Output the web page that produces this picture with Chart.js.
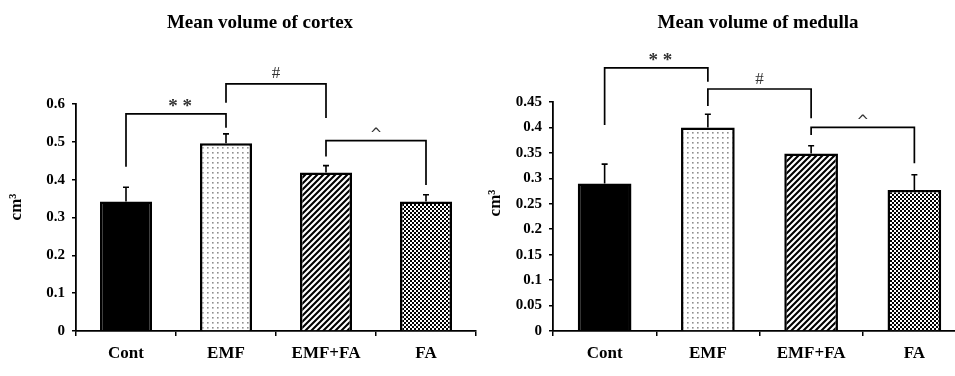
<!DOCTYPE html>
<html>
<head>
<meta charset="utf-8">
<script src="https://cdn.jsdelivr.net/npm/chart.js@4/dist/chart.umd.min.js"></script>
<style>
  html, body { margin: 0; padding: 0; background: #fff; overflow: hidden; }
  #wrap { position: relative; width: 955px; height: 376px; overflow: hidden; background: #fff; }
  #c1 { position: absolute; left: 0; top: 0; }
  #c2 { position: absolute; left: 480px; top: 0; }
</style>
</head>
<body>
<div id="wrap">
  <canvas id="c1" width="480" height="376"></canvas>
  <canvas id="c2" width="495" height="376"></canvas>
</div>
<script>
// ---------- data ----------
const categories = ['Cont', 'EMF', 'EMF+FA', 'FA'];

const cortexMeans = [0.342, 0.496, 0.419, 0.342];
const cortexErrors = [0.038, 0.025, 0.018, 0.018];
const cortexTicks = [0, 0.1, 0.2, 0.3, 0.4, 0.5, 0.6];
const cortexTickLabels = ['0', '0.1', '0.2', '0.3', '0.4', '0.5', '0.6'];

const medullaMeans = [0.290, 0.400, 0.349, 0.277];
const medullaErrors = [0.038, 0.026, 0.015, 0.030];
const medullaTicks = [0, 0.05, 0.1, 0.15, 0.2, 0.25, 0.3, 0.35, 0.4, 0.45];
const medullaTickLabels = ['0', '0.05', '0.1', '0.15', '0.2', '0.25', '0.3', '0.35', '0.4', '0.45'];

// significance brackets: from category, to category, leg bottoms and bar height (in data units), mark
const cortexBrackets = [
  { from: 0, to: 1, yFrom: 0.434, yTop: 0.574, yTo: 0.537, mark: '**' },
  { from: 1, to: 2, yFrom: 0.603, yTop: 0.653, yTo: 0.563, mark: '#' },
  { from: 2, to: 3, yFrom: 0.461, yTop: 0.503, yTo: 0.386, mark: '^' }
];
const medullaBrackets = [
  { from: 0, to: 1, yFrom: 0.405, yTop: 0.517, yTo: 0.490, mark: '**' },
  { from: 1, to: 2, yFrom: 0.442, yTop: 0.4755, yTo: 0.418, mark: '#' },
  { from: 2, to: 3, yFrom: 0.385, yTop: 0.400, yTo: 0.3295, mark: '^' }
];

// ---------- patterns ----------
function makeTile(size, draw) {
  const c = document.createElement('canvas');
  c.width = size; c.height = size;
  const g = c.getContext('2d');
  draw(g, size);
  return c;
}
function patterns(ctx) {
  const dots = ctx.createPattern(makeTile(5, (g, s) => {
    g.fillStyle = '#fff'; g.fillRect(0, 0, s, s);
    g.fillStyle = '#8f8f8f'; g.fillRect(2, 2, 1.6, 1.6);
  }), 'repeat');
  const stripes = ctx.createPattern(makeTile(6, (g, s) => {
    g.fillStyle = '#fff'; g.fillRect(0, 0, s, s);
    g.strokeStyle = '#000'; g.lineWidth = 2.1;
    g.beginPath();
    g.moveTo(0, s); g.lineTo(s, 0);
    g.moveTo(-1, 1); g.lineTo(1, -1);
    g.moveTo(s - 1, s + 1); g.lineTo(s + 1, s - 1);
    g.stroke();
  }), 'repeat');
  const checker = ctx.createPattern(makeTile(4, (g, s) => {
    g.fillStyle = '#000'; g.fillRect(0, 0, s, s);
    g.fillStyle = '#fff'; g.fillRect(0, 0, 2, 2); g.fillRect(2, 2, 2, 2);
  }), 'repeat');
  return ['#000', dots, stripes, checker];
}

// ---------- plugins ----------
const markFonts = {
  '**': 'bold 19px "Liberation Serif"',
  '#': '17px "Liberation Serif"',
  '^': '15px "DejaVu Sans"'
};
const extrasPlugin = {
  id: 'extras',
  afterDatasetsDraw(chart, args, opts) {
    const ctx = chart.ctx;
    const x = chart.scales.x, y = chart.scales.y;
    // error bars (upper only)
    ctx.save();
    ctx.strokeStyle = '#000';
    ctx.lineWidth = 1.6;
    opts.means.forEach((m, i) => {
      const px = x.getPixelForValue(i);
      const y0 = y.getPixelForValue(m);
      const y1 = y.getPixelForValue(m + opts.errors[i]);
      ctx.beginPath();
      ctx.moveTo(px, y0); ctx.lineTo(px, y1);
      ctx.moveTo(px - 3, y1); ctx.lineTo(px + 3, y1);
      ctx.stroke();
    });
    // brackets
    ctx.lineWidth = 1.7;
    opts.brackets.forEach(b => {
      const xa = x.getPixelForValue(b.from), xb = x.getPixelForValue(b.to);
      const ya = y.getPixelForValue(b.yFrom), yt = y.getPixelForValue(b.yTop), yb = y.getPixelForValue(b.yTo);
      ctx.beginPath();
      ctx.moveTo(xa, ya); ctx.lineTo(xa, yt); ctx.lineTo(xb, yt); ctx.lineTo(xb, yb);
      ctx.stroke();
      ctx.fillStyle = '#333';
      ctx.font = markFonts[b.mark];
      ctx.textAlign = 'center';
      ctx.textBaseline = 'alphabetic';
      const txt = b.mark === '**' ? '* *' : b.mark;
      const m = ctx.measureText(txt);
      const mid = (m.actualBoundingBoxAscent - m.actualBoundingBoxDescent) / 2;
      ctx.fillText(txt, (xa + xb) / 2 + (b.mark === '**' ? 4 : 0), yt - 11 + mid);
    });
    // title
    ctx.fillStyle = '#000';
    ctx.font = 'bold 19px "Liberation Serif"';
    ctx.textAlign = 'center';
    ctx.textBaseline = 'middle';
    ctx.fillText(opts.title, opts.titleX, 23);
    // y axis title
    ctx.save();
    ctx.translate(opts.yTitleX, opts.yTitleY);
    ctx.rotate(-Math.PI / 2);
    ctx.font = 'bold 17px "Liberation Serif"';
    ctx.fillText('cm\u00B3', 0, 0);
    ctx.restore();
    ctx.restore();
  }
};

function buildChart(canvasId, means, errors, ticks, tickLabels, brackets, title, opt) {
  const canvas = document.getElementById(canvasId);
  const ctx = canvas.getContext('2d');
  const fills = patterns(ctx);
  return new Chart(ctx, {
    type: 'bar',
    data: {
      labels: categories,
      datasets: [{
        data: means,
        backgroundColor: fills,
        borderColor: '#000',
        borderWidth: 2.5,
        borderSkipped: 'bottom',
        barPercentage: 0.52,
        categoryPercentage: 1.0
      }]
    },
    plugins: [extrasPlugin],
    options: {
      responsive: false,
      animation: false,
      devicePixelRatio: 1,
      layout: { padding: { left: 0, top: opt.top, right: opt.right, bottom: 0 } },
      plugins: {
        legend: { display: false },
        tooltip: { enabled: false },
        title: { display: false },
        extras: {
          means: means, errors: errors, brackets: brackets, title: title,
          titleX: opt.titleX, yTitleX: opt.yTitleX, yTitleY: opt.yTitleY
        }
      },
      scales: {
        x: {
          afterFit(s) { s.height = 45; },
          grid: { display: true, drawOnChartArea: false, drawTicks: true, tickLength: 5, color: '#000', lineWidth: 1.5 },
          border: { display: true, color: '#000', width: 1.8 },
          ticks: { color: '#000', padding: 7, font: { family: 'Liberation Serif', size: 17, weight: 'bold' } }
        },
        y: {
          min: 0,
          max: ticks[ticks.length - 1],
          afterFit(s) { s.width = opt.yWidth; },
          afterBuildTicks(s) { s.ticks = ticks.map(v => ({ value: v })); },
          grid: { display: true, drawOnChartArea: false, drawTicks: true, tickLength: 4, color: '#000', lineWidth: 1.5 },
          border: { display: true, color: '#000', width: 1.8 },
          ticks: {
            color: '#000', padding: 7,
            font: { family: 'Liberation Serif', size: 15, weight: 'bold' },
            callback: (v, i) => tickLabels[i]
          }
        }
      }
    }
  });
}

buildChart('c1', cortexMeans, cortexErrors, cortexTicks, cortexTickLabels, cortexBrackets,
  'Mean volume of cortex', { top: 104, right: 4, yWidth: 76, titleX: 260, yTitleX: 17, yTitleY: 207 });
buildChart('c2', medullaMeans, medullaErrors, medullaTicks, medullaTickLabels, medullaBrackets,
  'Mean volume of medulla', { top: 102, right: 9, yWidth: 73, titleX: 278, yTitleX: 16, yTitleY: 203 });
</script>
</body>
</html>
